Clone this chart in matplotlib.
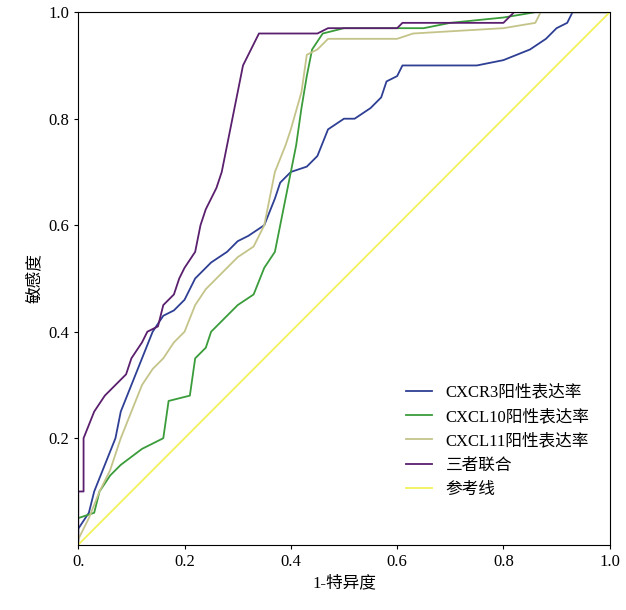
import matplotlib.pyplot as plt

plt.rcParams['font.family'] = ['Liberation Serif', 'Noto Sans CJK SC']

combo_x = [0, 0, 0.01, 0.01, 0.03, 0.05, 0.07, 0.09, 0.1, 0.12, 0.13, 0.15, 0.16, 0.18, 0.19, 0.2, 0.22, 0.23, 0.24, 0.25, 0.26, 0.27, 0.28, 0.29, 0.3, 0.31, 0.33, 0.34, 0.45, 0.47, 0.6, 0.61, 0.8, 0.82, 1]
combo_y = [0, 0.1, 0.1, 0.2, 0.25, 0.28, 0.3, 0.32, 0.35, 0.38, 0.4, 0.41, 0.45, 0.47, 0.5, 0.52, 0.55, 0.6, 0.63, 0.65, 0.67, 0.7, 0.75, 0.8, 0.85, 0.9, 0.94, 0.96, 0.96, 0.97, 0.97, 0.98, 0.98, 1.0, 1.0]

cxcr3_x = [0, 0, 0.02, 0.03, 0.05, 0.07, 0.08, 0.1, 0.12, 0.14, 0.16, 0.18, 0.2, 0.22, 0.25, 0.28, 0.3, 0.32, 0.35, 0.37, 0.38, 0.4, 0.43, 0.45, 0.47, 0.5, 0.52, 0.55, 0.57, 0.58, 0.6, 0.61, 0.75, 0.8, 0.85, 0.88, 0.9, 0.92, 0.93, 1]
cxcr3_y = [0, 0.03, 0.06, 0.1, 0.15, 0.2, 0.25, 0.3, 0.35, 0.4, 0.43, 0.44, 0.46, 0.5, 0.53, 0.55, 0.57, 0.58, 0.6, 0.65, 0.68, 0.7, 0.71, 0.73, 0.78, 0.8, 0.8, 0.82, 0.84, 0.87, 0.88, 0.9, 0.9, 0.91, 0.93, 0.95, 0.97, 0.98, 1.0, 1.0]

cxcl10_x = [0, 0.03, 0.04, 0.06, 0.08, 0.12, 0.16, 0.17, 0.21, 0.22, 0.24, 0.25, 0.27, 0.3, 0.33, 0.35, 0.37, 0.38, 0.39, 0.4, 0.41, 0.42, 0.43, 0.44, 0.46, 0.5, 0.65, 0.7, 0.8, 0.86, 1]
cxcl10_y = [0.05, 0.06, 0.1, 0.13, 0.15, 0.18, 0.2, 0.27, 0.28, 0.35, 0.37, 0.4, 0.42, 0.45, 0.47, 0.52, 0.55, 0.6, 0.65, 0.7, 0.75, 0.82, 0.88, 0.93, 0.96, 0.97, 0.97, 0.98, 0.99, 1.0, 1.0]

cxcl11_x = [0, 0.02, 0.04, 0.06, 0.08, 0.1, 0.12, 0.14, 0.16, 0.18, 0.2, 0.22, 0.24, 0.26, 0.28, 0.3, 0.33, 0.35, 0.36, 0.37, 0.39, 0.4, 0.42, 0.43, 0.45, 0.47, 0.6, 0.63, 0.8, 0.86, 0.87, 1]
cxcl11_y = [0.01, 0.05, 0.1, 0.14, 0.2, 0.25, 0.3, 0.33, 0.35, 0.38, 0.4, 0.45, 0.48, 0.5, 0.52, 0.54, 0.56, 0.6, 0.65, 0.7, 0.75, 0.78, 0.85, 0.92, 0.93, 0.95, 0.95, 0.96, 0.97, 0.98, 1.0, 1.0]

fig = plt.figure(figsize=(6.26, 6.10), dpi=100)
ax = fig.add_axes([0.125, 0.107, 0.849, 0.873])

ax.plot(cxcr3_x, cxcr3_y, color='#2e3f94', lw=1.3, label='CXCR3阳性表达率')
ax.plot(cxcl10_x, cxcl10_y, color='#3a9c3a', lw=1.3, label='CXCL10阳性表达率')
ax.plot(cxcl11_x, cxcl11_y, color='#c4c48a', lw=1.3, label='CXCL11阳性表达率')
ax.plot(combo_x, combo_y, color='#5a1f6e', lw=1.3, label='三者联合')
ax.plot([0, 1], [0, 1], color='#f2f25a', lw=1.3, label='参考线')

ax.set_xlim(0, 1)
ax.set_ylim(0, 1)
ax.set_xticks([0, 0.2, 0.4, 0.6, 0.8, 1.0])
ax.set_xticklabels(['0.', '0.2', '0.4', '0.6', '0.8', '1.0'])
ax.set_yticks([0.2, 0.4, 0.6, 0.8, 1.0])
ax.set_yticklabels(['0.2', '0.4', '0.6', '0.8', '1.0'])
ax.tick_params(labelsize=12, length=3)
ax.set_xlabel('1-特异度', fontsize=12)
ax.set_ylabel('敏感度', fontsize=12)
ax.legend(loc='lower right', bbox_to_anchor=(0.99, 0.06), fontsize=12, frameon=False,
          handlelength=1.6, labelspacing=0.5)

fig.savefig('out.png')
